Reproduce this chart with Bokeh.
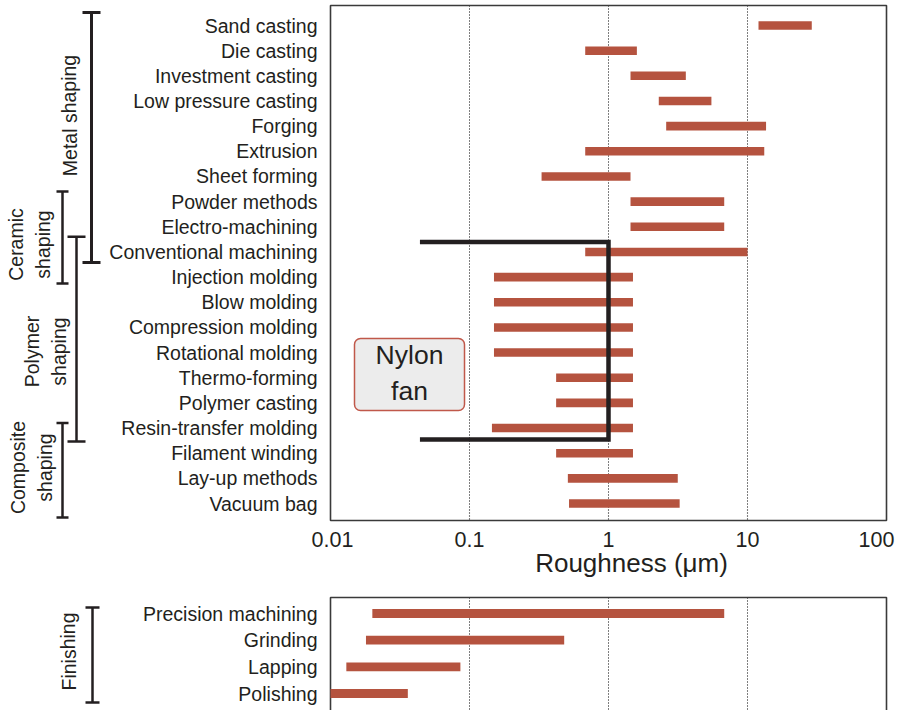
from bokeh.plotting import figure
from bokeh.models import Range1d, LogScale, ColumnDataSource, BoxAnnotation
from bokeh.layouts import column
from bokeh.embed import file_html
from bokeh.resources import INLINE
from bokeh.core.properties import value

# ---------------- data ----------------
processes = ["Sand casting", "Die casting", "Investment casting", "Low pressure casting",
             "Forging", "Extrusion", "Sheet forming", "Powder methods", "Electro-machining",
             "Conventional machining", "Injection molding", "Blow molding",
             "Compression molding", "Rotational molding", "Thermo-forming", "Polymer casting",
             "Resin-transfer molding", "Filament winding", "Lay-up methods", "Vacuum bag"]
rough_low = [12, 0.68, 1.44, 2.3, 2.6, 0.68, 0.33, 1.44, 1.44, 0.68,
             0.15, 0.15, 0.15, 0.15, 0.42, 0.42, 0.145, 0.42, 0.51, 0.52]
rough_high = [29, 1.6, 3.6, 5.5, 13.6, 13.2, 1.44, 6.8, 6.8, 10,
              1.5, 1.5, 1.5, 1.5, 1.5, 1.5, 1.5, 1.5, 3.15, 3.25]

finishing = ["Precision machining", "Grinding", "Lapping", "Polishing"]
fin_low = [0.02, 0.018, 0.013, 0.01]
fin_high = [6.8, 0.48, 0.086, 0.036]

tick_values = [0.01, 0.1, 1, 10, 100]
tick_labels = ["0.01", "0.1", "1", "10", "100"]
grid_values = [0.1, 1, 10]

group_names = ["Metal shaping", "Ceramic\nshaping", "Polymer\nshaping", "Composite\nshaping"]
group_top = [-0.52, 6.6, 8.4, 15.8]       # bracket spans, in process rows
group_bottom = [9.42, 10.25, 16.53, 19.55]
fin_group = "Finishing"

fan_left, fan_right = 0.044, 1.0           # Nylon fan roughness window
fan_top, fan_bottom = 8.6, 16.45           # rows spanned by the fan bracket
fan_text = "Nylon\nfan"
x_title = "Roughness (\u03bcm)"

# ---------------- styling / layout helpers ----------------
BAR = "#b5533f"
INK = "#231f20"
FONT = value("Liberation Sans")
X0, DEC = 330, 139.0           # page x of 0.01 and pixels per decade
W = 900


def xd(px):
    return 10 ** ((px - X0) / DEC - 2)


def y1(py):
    return (py - 25) / 25.16


def y2(py):
    return (py - 613) / 26.67


def make_fig(h, yr):
    p = figure(width=W, height=h, output_backend="svg", toolbar_location=None,
               x_axis_type="log", x_axis_location=None, y_axis_location=None,
               x_range=Range1d(xd(0), xd(W)), y_range=yr,
               min_border=0, outline_line_color=None)
    p.x_scale = LogScale()
    p.xgrid.visible = False
    p.ygrid.visible = False
    return p


GRID = dict(line_dash="1 2", line_color="#000000", line_width=1.1)

# ================= top panel =================
H1 = 590
p = make_fig(H1, Range1d(y1(H1), y1(0)))

box_top, box_bot = y1(5), y1(520)
p.segment(x0=grid_values, x1=grid_values, y0=[box_top] * 3, y1=[box_bot] * 3, **GRID)
p.quad(left=[tick_values[0]], right=[tick_values[-1]], top=[box_top], bottom=[box_bot],
       fill_color=None, line_color="#3a3a3a", line_width=1.6)

src = ColumnDataSource(dict(row=list(range(len(processes))), name=processes,
                            low=rough_low, high=rough_high))
p.hbar(y="row", left="low", right="high", height=0.34, fill_color=BAR, line_color=None, source=src)

p.text(x=xd(317), y="row", text="name", source=src, text_font=FONT,
       text_font_size=value("19.5px"), text_align="right", text_baseline="middle",
       text_color=INK)

# Nylon fan
p.line(x=[fan_left, fan_right, fan_right, fan_left], y=[fan_top, fan_top, fan_bottom, fan_bottom],
       line_width=4.5, line_color=INK, line_join="miter")
p.add_layout(BoxAnnotation(left=xd(354), right=xd(464), top=y1(338), bottom=y1(410),
                           fill_color="#ececec", fill_alpha=1, line_color="#c0584a",
                           line_alpha=1, line_width=1.5, border_radius=6, level="underlay"))
p.text(x=[xd(409)], y=[y1(372)], text=[fan_text], text_font=FONT,
       text_font_size=value("26.5px"), text_align="center", text_baseline="middle",
       text_color=INK, text_line_height=1.2)

# group brackets
gx = [91, 62, 76, 62]
gcap = [9, 6, 9, 6]
gw = [3, 2.5, 2.5, 2.5]
for i in range(4):
    p.segment(x0=[xd(gx[i])], x1=[xd(gx[i])], y0=[group_top[i]], y1=[group_bottom[i]],
              line_color=INK, line_width=gw[i])
    p.segment(x0=[xd(gx[i] - gcap[i])] * 2, x1=[xd(gx[i] + gcap[i])] * 2,
              y0=[group_top[i], group_bottom[i]], y1=[group_top[i], group_bottom[i]],
              line_color=INK, line_width=gw[i])
glx = [69, 29, 45, 31]
gly = [115, 244, 351, 467]
p.text(x=[xd(v) for v in glx], y=[y1(v) for v in gly], text=group_names, angle=1.5708,
       text_font=FONT, text_font_size=value("19.5px"), text_align="center",
       text_baseline="middle", text_color=INK, text_line_height=1.2)

# x tick labels & title
tick_off = [2, 0, 0, 0, -10]
p.text(x=tick_values, y=[y1(539)] * 5, text=tick_labels, x_offset=tick_off,
       text_font=FONT, text_font_size=value("21.5px"), text_align="center",
       text_baseline="alphabetic", text_color=INK)
p.text(x=[xd(631)], y=[y1(562)], text=[x_title], text_font=FONT,
       text_font_size=value("26px"), text_align="center", text_baseline="alphabetic",
       text_color=INK)

# ================= bottom panel =================
H2 = 120
q = make_fig(H2, Range1d(y2(H1 + H2), y2(H1)))
b2_top, b2_bot = y2(597), y2(760)
q.segment(x0=grid_values, x1=grid_values, y0=[b2_top] * 3, y1=[b2_bot] * 3, **GRID)
q.quad(left=[tick_values[0]], right=[tick_values[-1]], top=[b2_top], bottom=[b2_bot],
       fill_color=None, line_color="#3a3a3a", line_width=1.6)
src2 = ColumnDataSource(dict(row=list(range(len(finishing))), name=finishing,
                             low=fin_low, high=fin_high))
q.hbar(y="row", left="low", right="high", height=0.33, fill_color=BAR, line_color=None, source=src2)
q.text(x=xd(317), y="row", text="name", source=src2, text_font=FONT,
       text_font_size=value("19.5px"), text_align="right", text_baseline="middle",
       text_color=INK)
ft, fb = y2(607), y2(702)
q.segment(x0=[xd(92)], x1=[xd(92)], y0=[ft], y1=[fb], line_color=INK, line_width=2.5)
q.segment(x0=[xd(85)] * 2, x1=[xd(99)] * 2, y0=[ft, fb], y1=[ft, fb], line_color=INK, line_width=2.5)
q.text(x=[xd(68)], y=[y2(651)], text=[fin_group], angle=1.5708, text_font=FONT,
       text_font_size=value("19.5px"), text_align="center", text_baseline="middle",
       text_color=INK)

layout = column(p, q, spacing=0)
open("out.html", "w").write(file_html(layout, INLINE))
